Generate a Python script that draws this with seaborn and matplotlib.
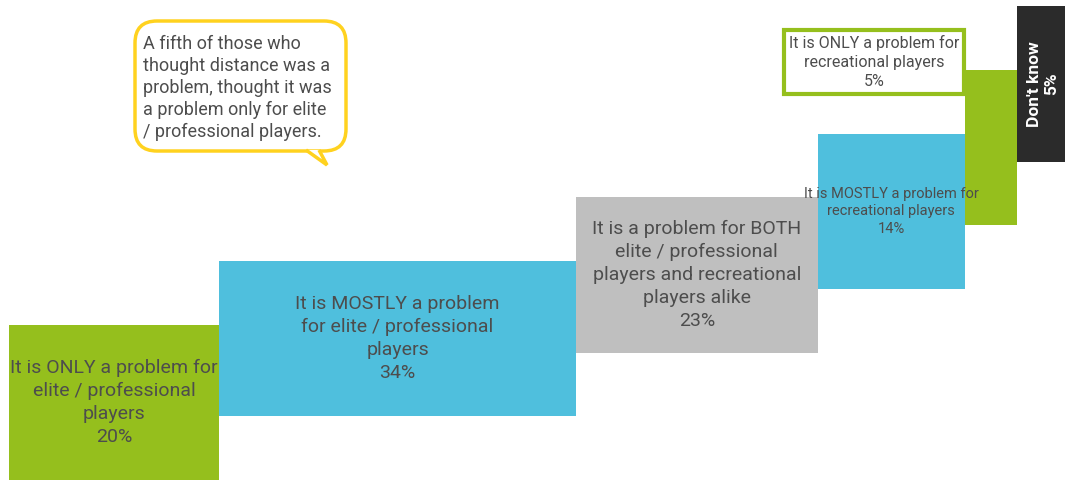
import matplotlib
matplotlib.use("Agg")
import matplotlib.pyplot as plt
from matplotlib.patches import FancyBboxPatch, Polygon
import seaborn as sns
import numpy as np

# ==============================================================================
# Data
# ==============================================================================
categories = [
    "It is ONLY a problem for\nelite / professional\nplayers",
    "It is MOSTLY a problem\nfor elite / professional\nplayers",
    "It is a problem for BOTH\nelite / professional\nplayers and recreational\nplayers alike",
    "It is MOSTLY a problem for\nrecreational players",
    "It is ONLY a problem for\nrecreational players",
    "Don't know",
]
values = [20, 34, 23, 14, 5, 5]
bar_colors = ["#95BF1D", "#4FBFDD", "#BFBFBF", "#4FBFDD", "#95BF1D", "#2B2B2B"]
callout_text = ("A fifth of those who\nthought distance was a\nproblem, thought it was\n"
                "a problem only for elite\n/ professional players.")

TEXT_COLOR = "#4D4D4D"
YELLOW = "#FFD21F"

# ==============================================================================
# Figure
# ==============================================================================
sns.set_theme(style="white")
plt.rcParams['font.family'] = ['Roboto', 'DejaVu Sans']

fig = plt.figure(figsize=(10.65, 4.8), dpi=100)
ax = fig.add_axes([0, 0, 1, 1])

lefts = np.concatenate([[0], np.cumsum(values)[:-1]])
bottoms = np.arange(len(values)) * 1.0
height = 2.44

ax.bar(lefts, height, width=values, bottom=bottoms, align="edge",
       color=bar_colors, linewidth=0)

ax.set_xlim(-0.857, 100.57)
ax.set_ylim(0, 7.54)
ax.axis("off")

# labels inside bars
sizes = [14, 14, 14, 10.5]
for i in range(4):
    cx = lefts[i] + values[i] / 2
    cy = bottoms[i] + height / 2
    ax.text(cx, cy, f"{categories[i]}\n{values[i]}%", ha="center", va="center",
            fontsize=sizes[i], color=TEXT_COLOR, linespacing=1.34)

# label for the small green bar, in an outlined box to its left
ax.text(lefts[4] - 8.6, 6.57, f"{categories[4]}\n{values[4]}%", ha="center", va="center",
        fontsize=11.5, color=TEXT_COLOR, linespacing=1.35,
        bbox=dict(boxstyle="square,pad=0.3", fc="white", ec="#95BF1D", lw=3))

# "Don't know" rotated label
ax.text(lefts[5] + values[5] / 2, bottoms[5] + height / 2,
        f"{categories[5]}\n{values[5]}%", ha="center", va="center", rotation=90,
        fontsize=12.5, color="white", fontweight="bold", linespacing=1.15)

# ==============================================================================
# Speech-bubble callout (pixel overlay axes)
# ==============================================================================
ov = fig.add_axes([0, 0, 1, 1], facecolor="none")
ov.set_xlim(0, 1065)
ov.set_ylim(480, 0)
ov.axis("off")

bubble = FancyBboxPatch((135, 21), 211, 130, boxstyle="round,pad=0,rounding_size=22",
                        fc="white", ec=YELLOW, lw=2.5)
ov.add_patch(bubble)
tail = Polygon([[306, 150], [327, 165], [319, 150]], closed=False,
               fc="white", ec=YELLOW, lw=2.5, joinstyle="miter")
ov.add_patch(tail)
ov.text(143, 88, callout_text, ha="left", va="center", fontsize=13,
        color=TEXT_COLOR, linespacing=1.27)

fig.savefig("out.png", dpi=100)
